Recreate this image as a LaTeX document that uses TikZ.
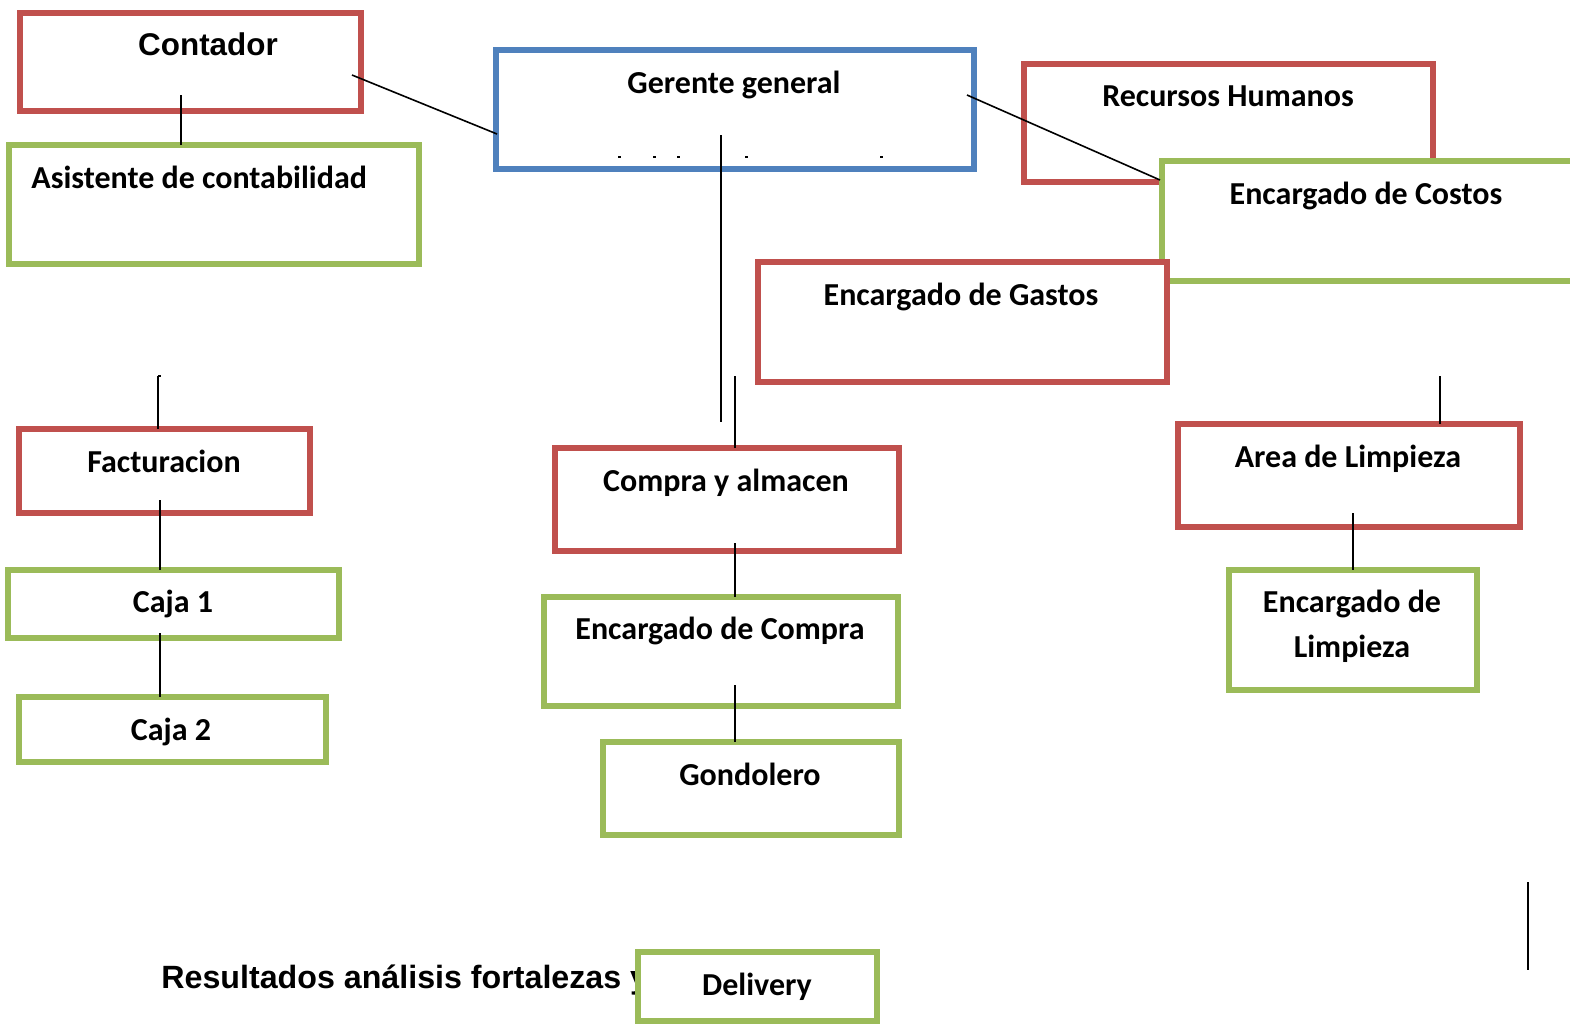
\documentclass[tikz,border=0pt]{standalone}
\usepackage{fontspec}
\setmainfont{Carlito}
\newfontfamily\arialf{Liberation Sans}
\definecolor{bred}{HTML}{C0504D}
\definecolor{bgreen}{HTML}{9BBB59}
\definecolor{bblue}{HTML}{4F81BD}
\tikzset{
  obox/.style={rectangle, draw, line width=3pt, fill=white, inner sep=0pt, outer sep=0pt},
  rbox/.style={obox, draw=bred},
  gbox/.style={obox, draw=bgreen},
  bbox/.style={obox, draw=bblue},
  lbl/.style={font=\bfseries\fontsize{16}{19}\selectfont, anchor=base, inner sep=0pt},
  albl/.style={font=\arialf\bfseries\fontsize{15.7}{18}\selectfont, anchor=base, inner sep=0pt},
  conn/.style={line width=0.8pt, black},
}
\newcommand\obx[6]{\node[#2, minimum width={(#5-#3-5)*0.5pt}, minimum height={(#6-#4-5)*0.5pt}] (#1) at ({(#3+#5)/2},{(#4+#6)/2}) {};}
\begin{document}
\begin{tikzpicture}[x=0.5pt,y=-0.5pt]
\useasboundingbox (0,0) rectangle (1570,1025);
% boxes
\obx{contador}{rbox}{17}{10}{363}{113}
\obx{asist}{gbox}{6}{142}{421}{266}
\obx{gerente}{bbox}{493}{47}{976}{171}
\obx{rrhh}{rbox}{1021}{61}{1435}{184}
\obx{costos}{gbox}{1159}{158}{1590}{283}
\obx{gastos}{rbox}{755}{259}{1169}{384}
\obx{fact}{rbox}{16}{426}{312}{515}
\obx{caja1}{gbox}{5}{567}{341}{640}
\obx{caja2}{gbox}{16}{694}{328}{764}
\obx{compra}{rbox}{552}{445}{901}{553}
\obx{enccompra}{gbox}{541}{594}{900}{708}
\obx{gond}{gbox}{600}{739}{901}{837}
\obx{area}{rbox}{1175}{421}{1522}{529}
\obx{enclimp}{gbox}{1226}{567}{1479}{692}
% labels
\node[albl] (tcont) at (208,55) {Contador};
\node[lbl, anchor=base west] (tasist) at (31,188) {Asistente de contabilidad};
\node[lbl] (tger) at (734,93) {Gerente general};
\node[lbl] (trrhh) at (1228,106) {Recursos Humanos};
\node[lbl] (tcost) at (1366,204) {Encargado de Costos};
\node[lbl] (tgast) at (961,305) {Encargado de Gastos};
\node[lbl] (tfact) at (164,472) {Facturacion};
\node[lbl] (tcaja1) at (173,612) {Caja 1};
\node[lbl] (tcaja2) at (171,740) {Caja 2};
\node[lbl] (tcompra) at (726,491) {Compra y almacen};
\node[lbl] (tencc) at (720,639) {Encargado de Compra};
\node[lbl] (tgond) at (750,785) {Gondolero};
\node[lbl] (tarea) at (1348,467) {Area de Limpieza};
\node[lbl] (tencl1) at (1352,612) {Encargado de};
\node[lbl] (tencl2) at (1352,657) {Limpieza};
\node[albl, font=\arialf\bfseries\fontsize{16.1}{18}\selectfont, anchor=base west] (tres) at (161,988) {Resultados análisis fortalezas y};
\obx{delivery}{gbox}{635}{949}{879}{1023}
\node[lbl] (tdel) at (757,995) {Delivery};
% free-end coordinates
\coordinate (p1) at (181,95);
\coordinate (p2) at (352,75);
\coordinate (p3) at (497,134);
\coordinate (p4) at (967,95);
\coordinate (p5) at (1160,180);
\coordinate (p6) at (721,135);
\coordinate (p7) at (721,422);
\coordinate (p8) at (735,376);
\coordinate (p9) at (158,376);
\coordinate (p10) at (160,500);
\coordinate (p11) at (160,633);
\coordinate (p12) at (735,543);
\coordinate (p13) at (735,685);
\coordinate (p14) at (1440,376);
\coordinate (p15) at (1353,513);
\coordinate (p16) at (1528,882);
\coordinate (p17) at (1528,970);
% connectors
\draw[conn] (p1) -- (p1 |- asist.north);
\draw[conn] (p2) -- (p3);
\draw[conn] (p4) -- (p5);
\draw[conn] (p6) -- (p7);
\draw[conn] (p8) -- (p8 |- compra.north);
\draw[conn] (p9) -- (p9 |- fact.north);
\draw[conn] (p9) -- ++(3,0);
\draw[conn] (p10) -- (p10 |- caja1.north);
\draw[conn] (p11) -- (p11 |- caja2.north);
\draw[conn] (p12) -- (p12 |- enccompra.north);
\draw[conn] (p13) -- (p13 |- gond.north);
\draw[conn] (p14) -- (p14 |- area.north);
\draw[conn] (p15) -- (p15 |- enclimp.north);
\draw[conn] (p16) -- (p17);
% small marks in Gerente box
\foreach \mx in {618,653,677,745,880}{\draw[line width=1pt] (\mx,157) -- ++(3,0);}
\end{tikzpicture}
\end{document}
